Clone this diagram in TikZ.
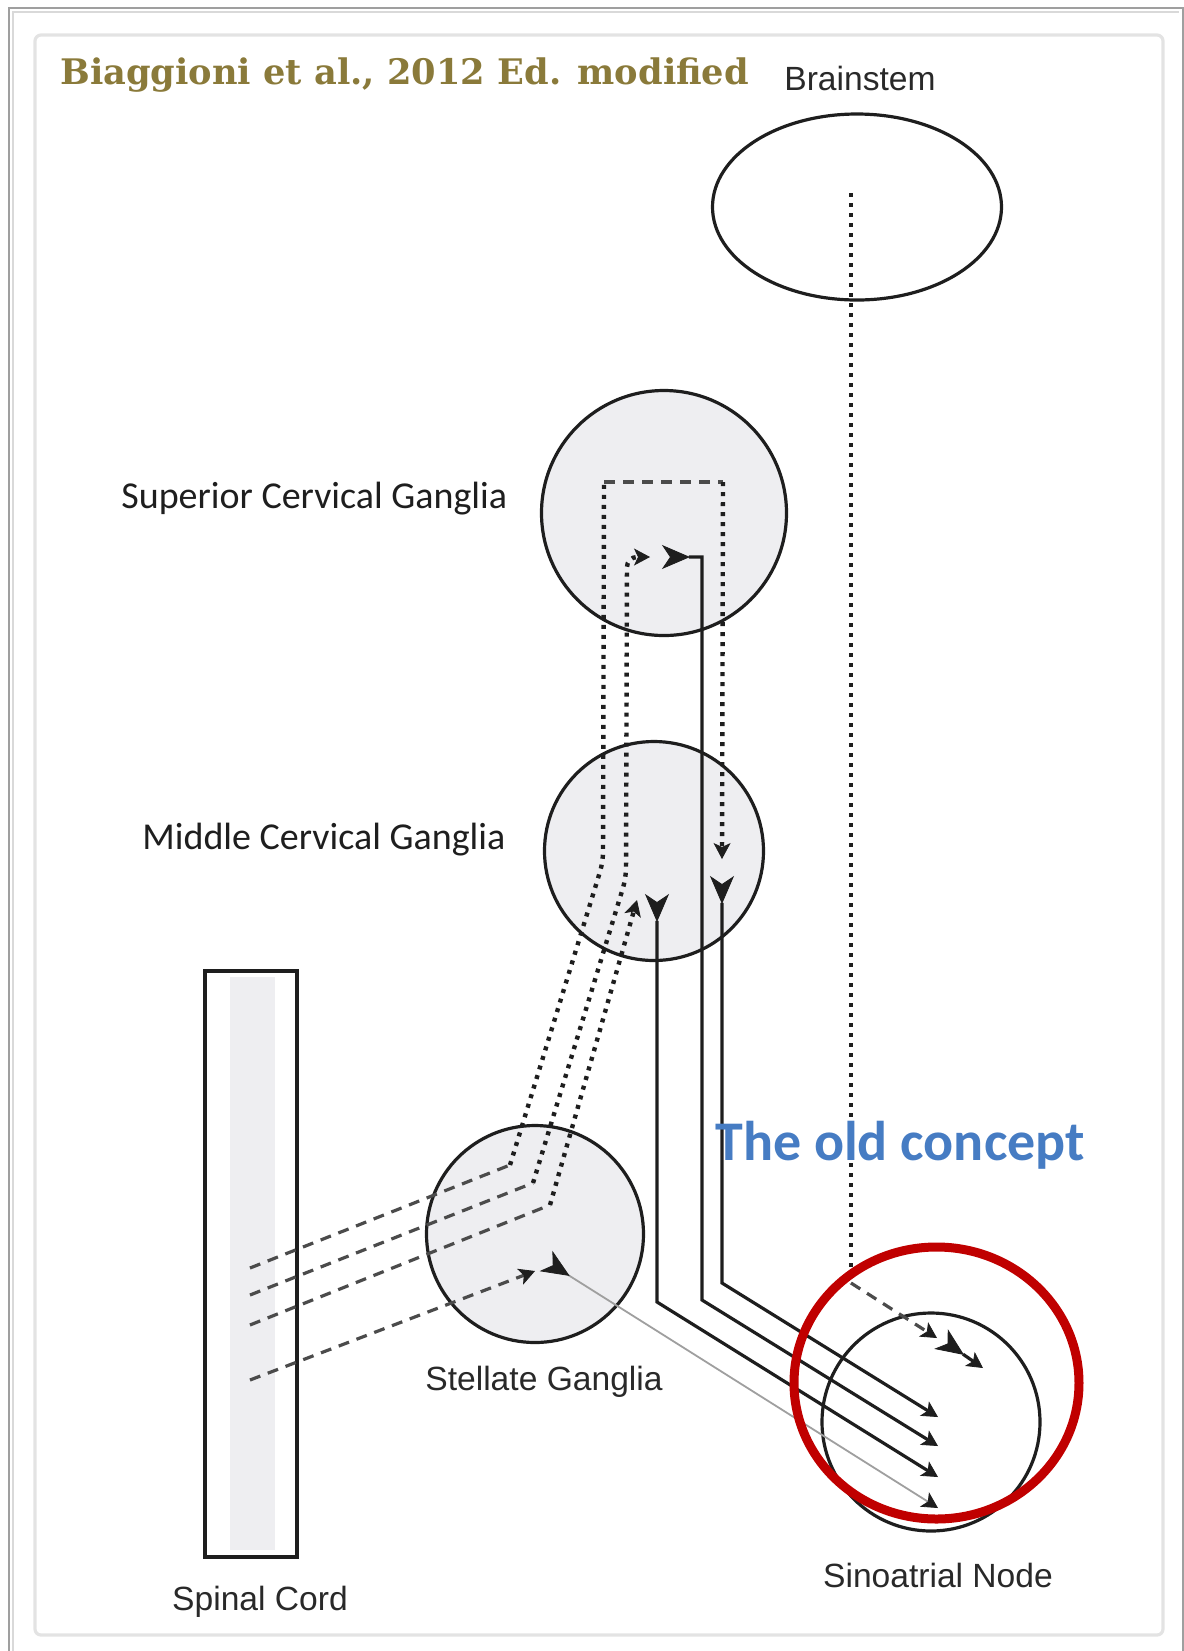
\documentclass[tikz,border=0pt]{standalone}
\usepackage{fontspec}
\setmainfont{Liberation Sans}
\newfontfamily\titlefont{DejaVu Serif}
\newfontfamily\calfont{Carlito}
\usetikzlibrary{arrows.meta,shapes.geometric}
\definecolor{titleol}{RGB}{138,122,58}
\definecolor{ganfill}{RGB}{238,238,241}
\definecolor{sared}{RGB}{192,0,0}
\definecolor{oldblue}{RGB}{70,124,195}
\definecolor{ink}{RGB}{30,30,30}
\definecolor{dashgray}{RGB}{75,75,75}
\begin{document}
\begin{tikzpicture}[x=0.5pt,y=-0.5pt,
  ganglion/.style={circle, draw=ink, line width=1.6pt, fill=ganfill, inner sep=0pt},
  lab/.style={inner sep=0pt, text=ink!95, font=\fontsize{16.8}{20}\selectfont},
  cal/.style={inner sep=0pt, text=ink, font=\calfont\fontsize{19}{22}\selectfont},
  dashedpre/.style={dashgray, line width=1.6pt, dash pattern=on 5.5pt off 4pt},
  dottedpre/.style={ink, line width=2.2pt, dash pattern=on 2pt off 3pt},
  smalltip/.style={arrows={-Stealth[length=8pt,width=8.5pt,inset=2pt,color=ink,line width=0.4pt]}},
  post/.style={ink, line width=1.6pt,
    arrows={Stealth[length=14pt,width=12pt,inset=4pt,reversed,color=ink,line width=0.4pt]-Stealth[length=8pt,width=8.5pt,inset=2pt,color=ink,line width=0.4pt]}},
  thinpost/.style={gray!75, line width=0.9pt,
    arrows={Stealth[length=14pt,width=12pt,inset=4pt,reversed,color=ink,line width=0.4pt]-Stealth[length=8pt,width=8.5pt,inset=2pt,color=ink,line width=0.4pt]}}
]
\useasboundingbox (0,0) rectangle (1184,1651);
% frames
\draw[gray!75, line width=1pt] (9,1651) -- (9,8) -- (1183,8) -- (1183,1651);
\draw[gray!30, line width=0.8pt] (13,1651) -- (13,12) -- (1179,12);
\draw[gray!22, line width=1.6pt, rounded corners=3pt] (35,35) rectangle (1163,1635);

% title and labels
\node[anchor=base west, inner sep=0pt, text=titleol, font=\titlefont\bfseries\fontsize{17.6}{20}\selectfont] (title) at (60,84) {Biaggioni et al., 2012 Ed. modified};
\node[lab, anchor=base] (bsl) at (860,90) {Brainstem};
\node[cal, anchor=base west] (scgl) at (121,508) {Superior Cervical Ganglia};
\node[cal, anchor=base west] (mcgl) at (142,849) {Middle Cervical Ganglia};
\node[lab, anchor=base] (stgl) at (544,1390) {Stellate Ganglia};
\node[lab, anchor=base] (scl) at (260,1610) {Spinal Cord};
\node[lab, anchor=base] (sanl) at (938,1587) {Sinoatrial Node};

% shapes
\fill[ganfill] (230,977) rectangle (275,1550);
\node[draw=ink, line width=2pt, minimum width=46pt, minimum height=293pt, inner sep=0pt] (sc) at (251,1264) {};
\node[ellipse, draw=ink, line width=1.6pt, minimum width=144.5pt, minimum height=93pt, inner sep=0pt] (bs) at (857,207) {};
\node[ganglion, minimum size=122.5pt] (scg) at (664,513) {};
\node[ganglion, minimum size=109.5pt] (mcg) at (654,851) {};
\node[ganglion, minimum size=108.5pt] (stg) at (535,1234) {};
\node[circle, draw=ink, line width=1.6pt, minimum size=109pt, inner sep=0pt] (san) at (931,1422) {};

% coordinates
\coordinate (p1s) at (250,1268);
\coordinate (p1b) at (510,1165);
\coordinate (p1v) at (603,862);
\coordinate (p1t) at (604,482);
\coordinate (p1r) at (723,482);
\coordinate (p1e) at (722,859);
\coordinate (p2s) at (250,1295);
\coordinate (p2b) at (533,1183);
\coordinate (p2v) at (626,878);
\coordinate (p2t) at (627,557);
\coordinate (p2e) at (650,557);
\coordinate (p3s) at (250,1325);
\coordinate (p3b) at (550,1205);
\coordinate (p3e) at (637,900);
\coordinate (p4s) at (250,1380);
\coordinate (p4e) at (535,1271);
\coordinate (qAs) at (722,876);
\coordinate (qAc) at (722,1283);
\coordinate (qAe) at (938,1417);
\coordinate (qBs) at (662,557);
\coordinate (qBt) at (702,557);
\coordinate (qBc) at (702,1300);
\coordinate (qBe) at (938,1446);
\coordinate (qCs) at (657,894);
\coordinate (qCc) at (657,1302);
\coordinate (qCe) at (938,1477);
\coordinate (qDs) at (546,1261);
\coordinate (qDe) at (938,1508);
\coordinate (vs) at (851,193);
\coordinate (vc) at (851,1283);
\coordinate (ve) at (937,1338);
\coordinate (ws) at (941,1339);
\coordinate (we) at (983,1368);

% preganglionic
\draw[dashedpre] (p1s) -- (p1b);
\draw[dottedpre, rounded corners=5pt] (p1b) -- (p1v) -- (p1t);
\draw[dashedpre] (p1t) -- (p1r);
\draw[dottedpre, smalltip] (p1r) -- (p1e);
\draw[dashedpre] (p2s) -- (p2b);
\draw[dottedpre, smalltip, rounded corners=5pt] (p2b) -- (p2v) -- (p2t) -- (p2e);
\draw[dashedpre] (p3s) -- (p3b);
\draw[dottedpre, smalltip] (p3b) -- (p3e);
\draw[dashedpre, smalltip] (p4s) -- (p4e);

% postganglionic
\draw[post] (qAs) -- (qAc) -- (qAe);
\draw[post] (qBs) -- (qBt) -- (qBc) -- (qBe);
\draw[post] (qCs) -- (qCc) -- (qCe);
\draw[thinpost] (qDs) -- (qDe);

% vagal
\draw[ink, line width=1.8pt, dash pattern=on 1.8pt off 3.2pt] (vs) -- (vc);
\draw[dashedpre, smalltip] (vc) -- (ve);
\draw[post] (ws) -- (we);

% red highlight
\node[ellipse, draw=sared, line width=4.5pt, minimum width=142.5pt, minimum height=136pt, inner sep=0pt] (red) at (936.5,1383) {};

\node[anchor=base west, inner sep=0pt, text=oldblue, font=\calfont\bfseries\fontsize{28}{32}\selectfont] (old) at (715,1160) {The old concept};
\end{tikzpicture}
\end{document}
